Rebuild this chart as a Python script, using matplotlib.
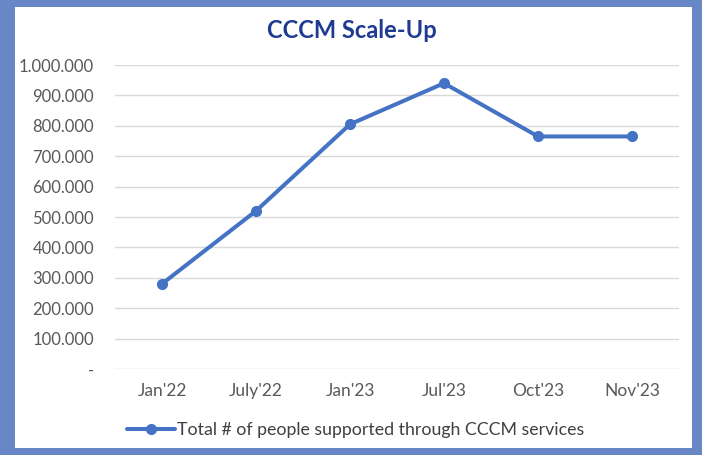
import matplotlib
matplotlib.use("Agg")
import matplotlib.pyplot as plt
from matplotlib.patches import Rectangle
from matplotlib.ticker import FuncFormatter, MultipleLocator

categories = ["Jan'22", "July'22", "Jan'23", "Jul'23", "Oct'23", "Nov'23"]
values = [280000, 520000, 805000, 940000, 765000, 765000]
series_label = "Total # of people supported through CCCM services"
title = "CCCM Scale-Up"

plt.rcParams['font.family'] = ['Lato', 'DejaVu Sans']

fig = plt.figure(figsize=(7.02, 4.55), dpi=100)
fig.patch.set_facecolor('#6787C6')
bg = Rectangle((15/702, 1-448/455), (692-15)/702, (448-7)/455,
               transform=fig.transFigure, facecolor='white',
               edgecolor='none', zorder=-10)
fig.patches.append(bg)

ax = fig.add_axes([115/702, 1-369/455, (679-115)/702, (369-65)/455])
ax.set_facecolor('none')
x = list(range(len(categories)))
line, = ax.plot(x, values, color='#4472C4', lw=2.9, marker='o', ms=7,
                solid_capstyle='round', label=series_label, zorder=3)
ax.set_xlim(-0.5, len(categories) - 0.5)
ax.set_ylim(0, 1000000)
ax.yaxis.set_major_locator(MultipleLocator(100000))

def fmt(v, pos):
    if v == 0:
        return '-'
    return f"{int(round(v)):,}".replace(',', '.')

ax.yaxis.set_major_formatter(FuncFormatter(fmt))
ax.set_xticks(x)
ax.set_xticklabels(categories)
ax.grid(axis='y', color='#D9D9D9', lw=1)
ax.set_axisbelow(True)
for s in ax.spines.values():
    s.set_visible(False)
ax.tick_params(axis='both', length=0, colors='#595959')
ax.tick_params(axis='x', pad=10, labelsize=12.5)
ax.tick_params(axis='y', pad=15, labelsize=12)

fig.text(352/702, 1-30/455, title, ha='center', va='center', fontsize=17,
         fontweight='bold', color='#1F3A93')

fig.legend(handles=[line], loc='center', bbox_to_anchor=(356/702, 1-430/455),
           frameon=False, fontsize=12.8, handlelength=2.7, handletextpad=0.1,
           labelcolor='#404040')

fig.savefig('out.png', dpi=100, facecolor=fig.get_facecolor())
